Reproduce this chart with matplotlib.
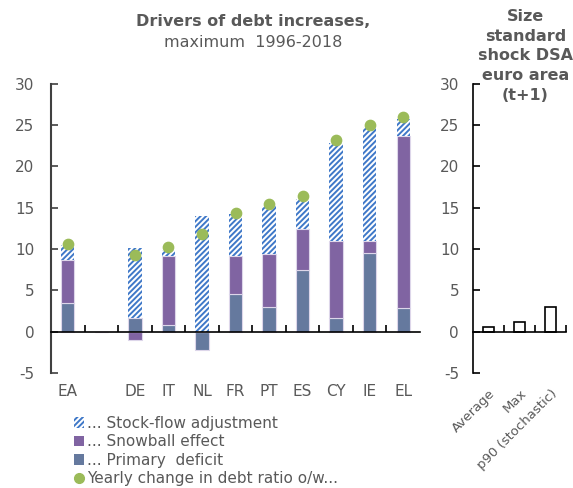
import numpy as np
import matplotlib
matplotlib.use("Agg")
import matplotlib.pyplot as plt
from matplotlib.patches import Patch
from matplotlib.lines import Line2D

# data
countries = ["EA", "", "DE", "IT", "NL", "FR", "PT", "ES", "CY", "IE", "EL"]
primary = [3.4, np.nan, 1.7, 0.8, -2.2, 4.6, 3.0, 7.4, 1.7, 9.5, 2.9]
snowball = [5.3, np.nan, -1.0, 8.3, 0.0, 4.5, 6.4, 5.0, 9.3, 1.5, 20.8]
sfa = [1.8, np.nan, 8.4, 0.8, 14.0, 5.2, 5.8, 3.6, 11.9, 13.8, 2.0]
yearly = [10.6, np.nan, 9.3, 10.3, 11.8, 14.4, 15.4, 16.4, 23.2, 25.0, 26.0]

shock_labels = ["Average", "Max", "p90 (stochastic)"]
shock_values = [0.6, 1.1, 3.0]

grey = "#595959"
c_primary = "#65799E"
c_snow = "#8064A2"
c_hatch = "#3F78C8"
c_dot = "#9BBB59"

plt.rcParams["font.family"] = "DejaVu Sans"
plt.rcParams["hatch.linewidth"] = 1.4

fig = plt.figure(figsize=(5.73, 4.88), dpi=100)
ax = fig.add_axes([0.089, 0.236, 0.644, 0.592])
ax2 = fig.add_axes([0.8255, 0.236, 0.163, 0.592])

x = np.arange(len(countries))
prim = np.array(primary)
snow = np.array(snowball)
sf = np.array(sfa)
w = 0.4

# stacking: positives stack upward, negatives downward
pos_base = np.zeros(len(x))
neg_base = np.zeros(len(x))

def stack(vals):
    vals = np.nan_to_num(vals)
    base = np.where(vals >= 0, pos_base, neg_base)
    return vals, base

v, b = stack(prim)
ax.bar(x, v, w, bottom=b, color=c_primary, edgecolor="#DDD6EA", linewidth=0.8, zorder=2)
pos_base += np.where(v >= 0, v, 0); neg_base += np.where(v < 0, v, 0)
v, b = stack(snow)
ax.bar(x, v, w, bottom=b, color=c_snow, edgecolor="#DDD6EA", linewidth=0.8, zorder=2)
pos_base += np.where(v >= 0, v, 0); neg_base += np.where(v < 0, v, 0)
v, b = stack(sf)
ax.bar(x, v, w, bottom=b, color="white", edgecolor=c_hatch, hatch="//////",
       linewidth=0, zorder=2)

ax.scatter(x, yearly, s=55, color=c_dot, zorder=4)

ax.set_xlim(-0.5, len(x) - 0.5)
ax.set_ylim(-5, 30)
ax.set_yticks(range(-5, 31, 5))
ax.set_yticklabels([str(t) for t in range(-5, 31, 5)])
ax.tick_params(axis="y", direction="in", length=5, width=1.2, colors="#404040",
               labelcolor=grey, labelsize=11, pad=12)
ax.spines["left"].set_color("#404040")
ax.spines["left"].set_linewidth(1.5)
for s in ["top", "right"]:
    ax.spines[s].set_visible(False)
ax.spines["bottom"].set_position(("data", 0))
ax.spines["bottom"].set_linewidth(1.2)
ax.set_xticks(x[:-1] + 0.5)
ax.set_xticklabels([])
ax.tick_params(axis="x", direction="in", length=5, width=1.2)

sec = ax.secondary_xaxis("bottom")
sec.set_xticks(x)
sec.set_xticklabels(countries)
sec.spines["bottom"].set_visible(False)
sec.tick_params(axis="x", length=0, labelsize=11, labelcolor=grey, pad=8)

fig.text(0.442, 0.955, "Drivers of debt increases,", ha="center", va="center",
         fontsize=11.5, fontweight="bold", color=grey)
fig.text(0.442, 0.912, "maximum  1996-2018", ha="center", va="center",
         fontsize=11.5, color=grey)

# right panel
xs = np.arange(len(shock_labels))
ax2.bar(xs, shock_values, 0.36, color="white", edgecolor="black", linewidth=1.2, zorder=2)
ax2.set_xlim(-0.5, len(xs) - 0.5)
ax2.set_ylim(-5, 30)
ax2.set_yticks(range(-5, 31, 5))
ax2.set_yticklabels([str(t) for t in range(-5, 31, 5)])
ax2.tick_params(axis="y", direction="in", length=5, width=1.2,
                labelcolor=grey, labelsize=11, pad=10)
for s in ["top", "right"]:
    ax2.spines[s].set_visible(False)
ax2.spines["left"].set_linewidth(1.2)
ax2.spines["bottom"].set_position(("data", 0))
ax2.spines["bottom"].set_linewidth(1.2)
ax2.set_xticks(xs + 0.5)
ax2.set_xticklabels([])
ax2.tick_params(axis="x", direction="in", length=5, width=1.2)

sec2 = ax2.secondary_xaxis("bottom")
sec2.set_xticks(xs)
sec2.set_xticklabels(shock_labels, rotation=45, ha="right", rotation_mode="anchor")
sec2.spines["bottom"].set_visible(False)
sec2.tick_params(axis="x", length=0, labelsize=9.5, labelcolor=grey, pad=10)

fig.text(0.917, 0.982, "Size\nstandard\nshock DSA\neuro area\n(t+1)", ha="center",
         va="top", fontsize=11.5, fontweight="bold", color=grey, linespacing=1.4,
         zorder=5)

handles = [
    Patch(facecolor="white", edgecolor=c_hatch, hatch="//////", linewidth=0),
    Patch(facecolor=c_snow),
    Patch(facecolor=c_primary),
    Line2D([], [], marker="o", linestyle="none", markersize=7, color=c_dot),
]
labels = ["... Stock-flow adjustment", "... Snowball effect", "... Primary  deficit",
          "Yearly change in debt ratio o/w..."]
fig.legend(handles, labels, loc="upper left", bbox_to_anchor=(0.115, 0.163),
           frameon=False, fontsize=11, handlelength=0.7, handleheight=0.7,
           handletextpad=0.2, labelspacing=0.22, labelcolor=grey, borderpad=0)

fig.savefig("out.png", dpi=100)
